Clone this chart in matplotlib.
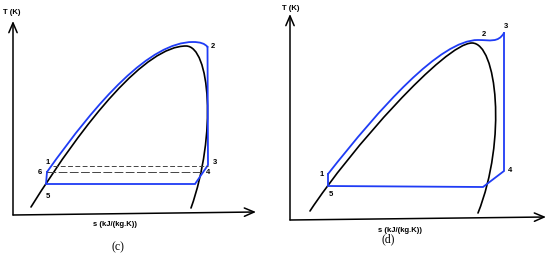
import numpy as np
import matplotlib
matplotlib.use("Agg")
from matplotlib import pyplot as plt
from matplotlib.path import Path
from matplotlib.patches import PathPatch

# schematic T-s diagrams, everything in image pixel coords (y down)
BLUE = "#1f3cf5"

# panel (c)  (bezier control points: P0 C1 C2 P3 C1 C2 P3 ...)
dome_c = [(31, 207), (86, 119), (146, 46), (186, 46), (210, 46), (217, 135), (191, 208)]
cycle_c_curve = [(47, 172), (98, 100), (150, 42), (193, 42), (200, 42), (205, 43.5), (207.5, 47)]
cycle_c_lines = [(207.5, 47), (208, 165), (195, 184), (46, 184), (47, 172)]
dash_hi_c = [(53, 165.5), (208, 165.5)]
dash_lo_c = [(47, 172), (203, 172)]
labels_c = {"1": (48, 163), "2": (213, 47), "3": (215, 163), "4": (208, 173), "5": (48, 197), "6": (40, 173)}
axes_c = {"origin": (13, 215), "top": (13, 21), "right": (256, 212)}

# panel (d)
dome_d = [(310, 211), (350, 150), (445, 43), (472, 43), (497, 43), (507, 140), (478, 213)]
cycle_d_curve = [(328, 174), (380, 108), (440, 40), (478, 40), (490, 40), (498, 43), (504, 33)]
cycle_d_lines = [(504, 33), (504, 171), (483, 187), (328, 186), (328, 174)]
labels_d = {"1": (322, 174), "2": (484, 34), "3": (506, 27), "4": (510, 170), "5": (331, 194)}
axes_d = {"origin": (290, 220), "top": (290, 14), "right": (546, 217)}

xlabel = "s (kJ/(kg.K))"
ylabel = "T (K)"
captions = {"(c)": (118, 247), "(d)": (388, 239)}
xlabel_pos = [(115, 225), (400, 230)]
ylabel_pos = [(12, 13), (291, 8)]

SANS = ["Liberation Sans", "DejaVu Sans"]


def bez(ax, pts, color, lw):
    codes = [Path.MOVETO] + [Path.CURVE4] * (len(pts) - 1)
    ax.add_patch(PathPatch(Path(pts, codes), fill=False, ec=color, lw=lw, capstyle="round"))


def draw_axes(ax, a):
    ar = dict(arrowstyle="->,head_length=0.7,head_width=0.3", lw=1.1, color="black",
              shrinkA=0, shrinkB=0)
    ax.annotate("", xy=a["top"], xytext=a["origin"], arrowprops=ar)
    ax.annotate("", xy=a["right"], xytext=a["origin"], arrowprops=ar)


fig = plt.figure(figsize=(5.5, 2.58), dpi=100)
ax = fig.add_axes([0, 0, 1, 1])
ax.set_xlim(0, 550)
ax.set_ylim(258, 0)
ax.axis("off")

draw_axes(ax, axes_c)
draw_axes(ax, axes_d)

bez(ax, dome_c, "black", 1.2)
bez(ax, dome_d, "black", 1.2)
bez(ax, cycle_c_curve, BLUE, 1.3)
bez(ax, cycle_d_curve, BLUE, 1.3)
for seg in (cycle_c_lines, cycle_d_lines):
    xs, ys = zip(*seg)
    ax.plot(xs, ys, color=BLUE, lw=1.3, solid_joinstyle="miter")

xs, ys = zip(*dash_hi_c)
ax.plot(xs, ys, color="#444444", lw=0.7, dashes=(5, 2.5))
xs, ys = zip(*dash_lo_c)
ax.plot(xs, ys, color="#444444", lw=0.7, dashes=(9, 2.5))

for lab in (labels_c, labels_d):
    for k, (x, y) in lab.items():
        ax.text(x, y, k, fontsize=5.5, fontweight="bold", family=SANS, ha="center", va="center")

for p in xlabel_pos:
    ax.text(p[0], p[1], xlabel, fontsize=5.5, fontweight="bold", family=SANS, ha="center", va="center")
for p in ylabel_pos:
    ax.text(p[0], p[1], ylabel, fontsize=5.5, fontweight="bold", family=SANS, ha="center", va="center")
for k, (x, y) in captions.items():
    ax.text(x, y, k, fontsize=8.5, family=["Liberation Serif", "DejaVu Serif"], ha="center", va="center")

fig.savefig("out.png", dpi=100)
